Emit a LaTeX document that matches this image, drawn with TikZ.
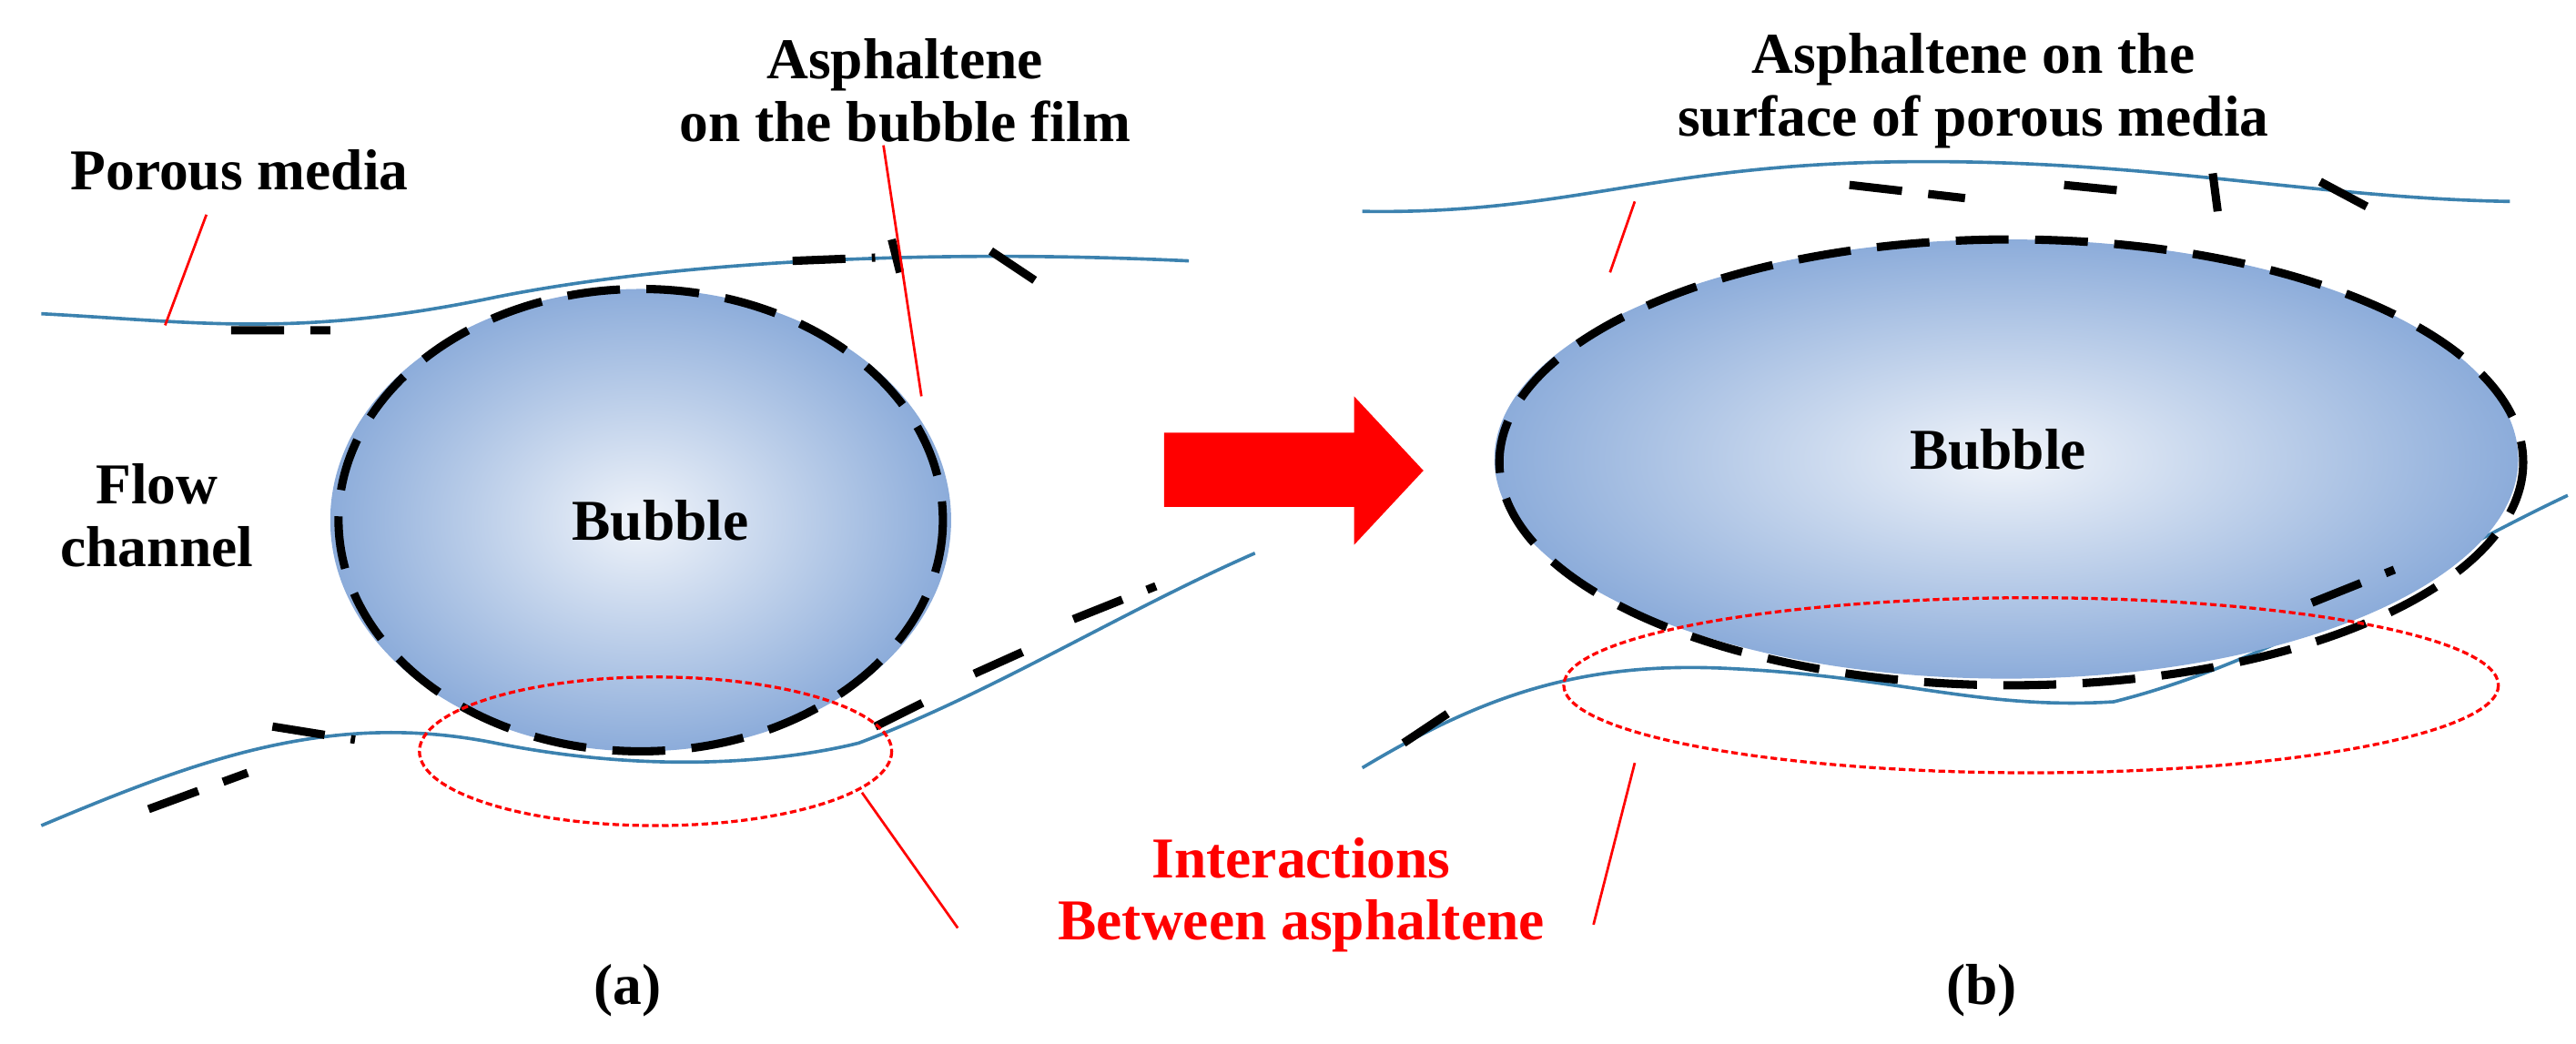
\documentclass[tikz,border=0pt]{standalone}
\usepackage{fontspec}
\setmainfont{Liberation Serif}
\begin{document}
\begin{tikzpicture}[x=1pt,y=-1pt,
  chan/.style={draw={rgb,255:red,60;green,130;blue,175},line width=2},
  film/.style={draw=black,line width=5,dash pattern=on 32 off 16},
  lead/.style={draw=red,line width=1.5},
  interact/.style={draw=red,line width=1.8,dash pattern=on 4 off 2},
  lbl/.style={font=\fontsize{35}{38}\selectfont\bfseries,align=center},
  bub/.style={inner color={rgb,255:red,240;green,244;blue,250},outer color={rgb,255:red,140;green,172;blue,218}}]
\useasboundingbox (0,0) rectangle (1560,632);
% channels left
\draw[chan] (25,190) .. controls (120,195) and (180,205) .. (300,180) .. controls (400,160) and (550,150) .. (720,158);
\draw[chan] (25,500) .. controls (120,460) and (200,430) .. (300,450) .. controls (400,470) and (480,460) .. (520,450) .. controls (600,420) and (680,370) .. (760,335);
% channels right
\draw[chan] (825,128) .. controls (950,130) and (1000,100) .. (1150,98) .. controls (1300,96) and (1400,120) .. (1520,122);
\draw[chan] (825,465) .. controls (900,420) and (960,400) .. (1050,405) .. controls (1150,410) and (1200,430) .. (1280,425) .. controls (1380,400) and (1470,340) .. (1555,300);
% bubbles
\shade[bub] (388,315) ellipse[x radius=188,y radius=140];
\shade[bub] (1215,278) ellipse[x radius=310,y radius=133];
% films
\draw[film] (388,315) ellipse[x radius=183,y radius=140];
\draw[film] (1218,280) ellipse[x radius=310,y radius=135];
\draw[film] (140,200) -- (200,200) (480,158) -- (530,156) (540,145) -- (545,165) (600,152) -- (630,172);
\draw[film] (90,490) -- (150,468) (165,440) -- (215,448) (530,440) -- (570,420) (590,408) -- (630,390) (650,375) -- (700,355);
\draw[film] (1120,112) -- (1190,120) (1250,112) -- (1290,116) (1340,105) -- (1343,128) (1405,110) -- (1435,126);
\draw[film] (850,450) -- (880,430) (1400,365) -- (1450,345);
% arrow
\fill[red] (705,262) -- (820,262) -- (820,240) -- (862,285) -- (820,330) -- (820,307) -- (705,307) -- cycle;
% interaction ellipses
\draw[interact] (397,455) ellipse[x radius=143,y radius=45];
\draw[interact] (1230,415) ellipse[x radius=283,y radius=53];
% labels
\node[lbl] (pm) at (145,103) {Porous media};
\node[lbl] (af) at (548,55) {Asphaltene\\on the bubble film};
\node[lbl] (as) at (1195,55) {Asphaltene on the\\surface of porous media};
\node[lbl] (fc) at (95,312) {Flow\\channel};
\node[lbl] (b1) at (400,315) {Bubble};
\node[lbl] (b2) at (1210,272) {Bubble};
\node[lbl,text=red] (ia) at (788,542) {Interactions\\Between asphaltene};
\node[lbl] (la) at (380,600) {(a)};
\node[lbl] (lb) at (1200,600) {(b)};
\coordinate (p1) at (100,197);
\coordinate (p2) at (558,240);
\coordinate (p3) at (975,165);
\coordinate (p4) at (522,480);
\coordinate (p5) at (990,462);
\draw[lead] (125,130) -- (p1);
\draw[lead] (535,88) -- (p2);
\draw[lead] (990,122) -- (p3);
\draw[lead] (580,562) -- (p4);
\draw[lead] (965,560) -- (p5);
\end{tikzpicture}
\end{document}
